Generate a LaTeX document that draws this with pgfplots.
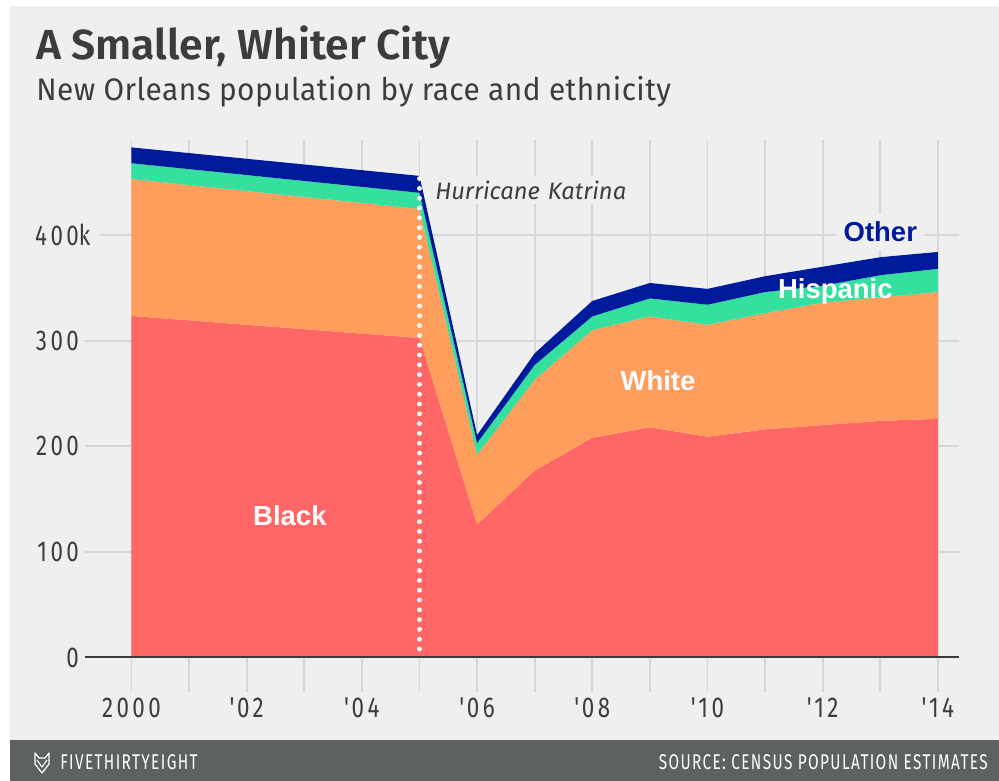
\documentclass[border=0pt]{standalone}
\usepackage{fontspec}
\usepackage{pgfplots}
\usepackage{pgfplotstable}
\pgfplotsset{compat=1.18}
\setmainfont{Fira Sans}
\newfontfamily\titlefont[FakeStretch=1.015]{Fira Sans SemiBold}
\newfontfamily\subfont[FakeStretch=0.96,LetterSpace=1.5]{Fira Sans}
\newfontfamily\tickfont[FakeStretch=0.78,LetterSpace=12]{Fira Sans}
\newfontfamily\footfont[FakeStretch=0.72,LetterSpace=6.5]{Fira Sans}
\newfontfamily\labelfont{Liberation Sans}
\newcommand\ap{\char"0027\kern2pt}
\definecolor{bg}{HTML}{EFEFEF}
\definecolor{foot}{HTML}{5E6161}
\definecolor{cblack}{HTML}{FF6666}
\definecolor{cwhite}{HTML}{FF9E5C}
\definecolor{chisp}{HTML}{35E09F}
\definecolor{cother}{HTML}{001A9C}
\definecolor{gridc}{HTML}{D6D6D6}
\definecolor{txt}{HTML}{3C3C3C}
\pgfplotstableread{
year black white hispanic other
2000 323.4 129.6 15.0 15.0
2005 302.5 122.2 15.3 16.0
2006 126 66 11 7.6
2007 177 86 14 11
2008 208 102 13 14.6
2009 218 105 17 14.6
2010 209 106 19 15
2011 216 110 20 15
2012 220 116 16 18
2013 224 117 21 17
2014 226 120 22 16
}\popdata
\begin{document}
\begin{tikzpicture}[x=0.75pt,y=0.75pt]
\fill[white] (0,0) rectangle (999,781);
\fill[bg] (10,41) rectangle (999,775);
\fill[foot] (10,0) rectangle (999,41);
\node[anchor=base west,inner sep=0,text=txt,font=\titlefont\fontsize{31.5}{34}\selectfont] at (36,721) {A Smaller, Whiter City};
\node[anchor=base west,inner sep=0,text=txt,font=\subfont\fontsize{23.3}{25}\selectfont] at (36,680) {New Orleans population by race and ethnicity};
\begin{axis}[
  at={(63.75pt,66.75pt)},anchor=south west,
  scale only axis,width=655.5pt,height=414pt,
  xmin=1999.193,xmax=2014.366,ymin=-32.7,ymax=490,
  clip=false,
  axis line style={draw=none},
  tick style={draw=none},
  grid=major,
  grid style={gridc,line width=1.3pt},
  xtick={2000,...,2014},
  xticklabels={2000,,\ap02,,\ap04,,\ap06,,\ap08,,\ap10,,\ap12,,\ap14},
  ytick={0,100,200,300,400},
  yticklabels={0,100,200,300,400\rlap{k}},
  tick label style={text=txt,font=\tickfont\fontsize{21.5}{22}\selectfont},
  /pgf/number format/assume math mode=true,
  xticklabel style={yshift=-1pt},
  yticklabel style={anchor=east,xshift=-1pt},
  axis on top=false,
]
\addplot[stack plots=y,fill=cblack,draw=none] table[x=year,y=black]{\popdata} \closedcycle;
\addplot[stack plots=y,fill=cwhite,draw=none] table[x=year,y=white]{\popdata} \closedcycle;
\addplot[stack plots=y,fill=chisp,draw=none] table[x=year,y=hispanic]{\popdata} \closedcycle;
\addplot[stack plots=y,fill=cother,draw=none] table[x=year,y=other]{\popdata} \closedcycle;
\addplot[stack plots=false,white,line width=3.6pt,line cap=round,dash pattern=on 0pt off 7.35pt] coordinates {(2005,8) (2005,456)};
\addplot[stack plots=false,txt,line width=1.5pt] coordinates {(1999.193,0) (2014.366,0)};
\addplot[stack plots=false,bg,line width=2pt] coordinates {(1999.193,400) (1999.46,400)};
\node[anchor=west,fill=bg,inner sep=0,minimum height=21.5pt,text width=156pt,text=txt,font=\fontsize{17.8}{19}\itshape\selectfont,align=left] at (axis cs:2005.27,442.5) {Hurricane Katrina};
\node[fill=bg,inner sep=0,minimum height=27pt,minimum width=67pt,text=cother,font=\labelfont\bfseries\fontsize{20.6}{22}\selectfont] at (axis cs:2013.0,403) {Other};
\node[text=white,inner sep=0,font=\labelfont\bfseries\fontsize{20.6}{22}\selectfont] at (axis cs:2012.22,347) {Hispanic};
\node[text=white,inner sep=0,font=\labelfont\bfseries\fontsize{20.6}{22}\selectfont] at (axis cs:2009.14,262) {White};
\node[text=white,inner sep=0,font=\labelfont\bfseries\fontsize{20.6}{22}\selectfont] at (axis cs:2002.75,134) {Black};
\end{axis}
% logo
\draw[white,line width=0.9pt,line join=round] (35,28) -- (35,17) -- (42,8) -- (49,17) -- (49,28) -- (45,23) -- (39,23) -- cycle;
\draw[white,line width=0.8pt] (37,21) -- (42,14) -- (47,21);
\node[anchor=base west,inner sep=0,text=white,font=\footfont\fontsize{16}{17}\selectfont] at (60,11) {FIVETHIRTYEIGHT};
\node[anchor=base east,inner sep=0,text=white,font=\footfont\fontsize{16}{17}\selectfont] at (988,11) {SOURCE: CENSUS POPULATION ESTIMATES};
\end{tikzpicture}
\end{document}
